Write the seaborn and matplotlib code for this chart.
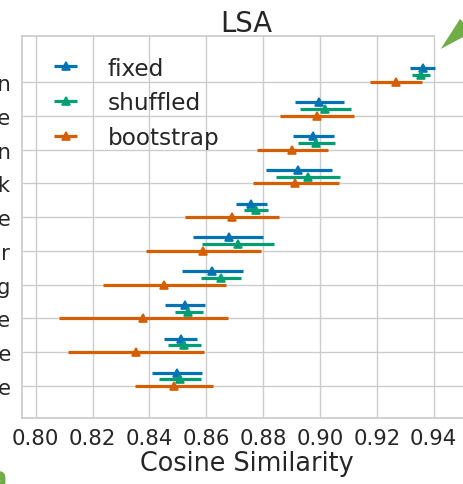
import matplotlib
matplotlib.use("Agg")
import matplotlib.pyplot as plt
from matplotlib.patches import Polygon, Rectangle
import seaborn as sns

# Ten nearest neighbours of the query word, top to bottom
words = ["heroin", "cocaine", "possession", "crack", "methadone",
         "dealer", "smoking", "amphetamine", "nicotine", "legalize"]
settings = ["fixed", "shuffled", "bootstrap"]

# Mean cosine similarity and interval bounds for each setting
fixed_mean = [0.9361, 0.8998, 0.8974, 0.8924, 0.8757, 0.8679, 0.8621, 0.8525, 0.8510, 0.8496]
fixed_lo   = [0.9318, 0.8912, 0.8904, 0.8810, 0.8705, 0.8554, 0.8514, 0.8455, 0.8451, 0.8408]
fixed_hi   = [0.9403, 0.9083, 0.9048, 0.9041, 0.8815, 0.8801, 0.8728, 0.8596, 0.8566, 0.8584]

shuffled_mean = [0.9354, 0.9019, 0.8985, 0.8957, 0.8774, 0.8711, 0.8651, 0.8537, 0.8522, 0.8508]
shuffled_lo   = [0.9324, 0.8930, 0.8924, 0.8844, 0.8733, 0.8584, 0.8581, 0.8490, 0.8466, 0.8434]
shuffled_hi   = [0.9387, 0.9108, 0.9053, 0.9070, 0.8816, 0.8839, 0.8722, 0.8587, 0.8581, 0.8581]

bootstrap_mean = [0.9267, 0.8988, 0.8903, 0.8913, 0.8689, 0.8590, 0.8452, 0.8378, 0.8353, 0.8486]
bootstrap_lo   = [0.9177, 0.8859, 0.8777, 0.8763, 0.8525, 0.8388, 0.8238, 0.8083, 0.8115, 0.8349]
bootstrap_hi   = [0.9358, 0.9121, 0.9027, 0.9067, 0.8856, 0.8792, 0.8670, 0.8675, 0.8593, 0.8625]

x_ticks = [0.80, 0.82, 0.84, 0.86, 0.88, 0.90, 0.92, 0.94]

series = {
    "fixed": (fixed_mean, fixed_lo, fixed_hi),
    "shuffled": (shuffled_mean, shuffled_lo, shuffled_hi),
    "bootstrap": (bootstrap_mean, bootstrap_lo, bootstrap_hi),
}

sns.set_theme(style="whitegrid")
plt.rcParams["font.family"] = ["DejaVu Sans"]
pal = sns.color_palette("colorblind")
colors = {"fixed": pal[0], "shuffled": pal[2], "bootstrap": pal[3]}
offsets = {"fixed": -0.4, "shuffled": -0.2, "bootstrap": 0.0}
text_col = "#262626"

W, H = 463, 485
fig = plt.figure(figsize=(W / 100, H / 100), dpi=100)
ax = fig.add_axes([21.7 / W, 66 / H, (471.3 - 21.7) / W, 382.3 / H])

for name in settings:
    mean, lo, hi = series[name]
    ypos = [i + offsets[name] for i in range(len(words))]
    xerr = [[m - l for m, l in zip(mean, lo)], [h - m for m, h in zip(mean, hi)]]
    ax.errorbar(mean, ypos, xerr=xerr, fmt="^", color=colors[name],
                ms=5.5, mew=1.2, elinewidth=2.3, capsize=0, label=name, zorder=3)

ax.set_xlim(0.79508, 0.95322)
ax.set_ylim(9.947, -1.371)
ax.set_xticks(x_ticks)
ax.set_xticklabels([f"{t:.2f}" for t in x_ticks])
ax.set_yticks(range(len(words)))
ax.set_yticklabels(words)
ax.tick_params(axis="both", length=0, labelsize=15.3, colors=text_col)
ax.tick_params(axis="x", pad=7)
ax.tick_params(axis="y", pad=7.7)

ax.set_title("LSA", fontsize=19.8, pad=3.6, color=text_col)
ax.set_xlabel("Cosine Similarity", fontsize=18.4, labelpad=2, color=text_col)

for s in ax.spines.values():
    s.set_color("#cccccc")
ax.grid(True, color="#cccccc", lw=1.0)

leg = ax.legend(loc="upper left", frameon=False, fontsize=16.7)
for t in leg.get_texts():
    t.set_color(text_col)

# Neighbouring figure elements at the edges
green = "#70AD47"
fig.patches.append(Rectangle((434.8 / W, 1 - 40 / H), (480 - 434.8) / W, 8 / H,
                             transform=fig.transFigure, facecolor="white",
                             edgecolor="none", zorder=9))
tri = [(440.7, 50), (460, 20), (472.8, 32.8)]
fig.patches.append(Polygon([(x / W, 1 - y / H) for x, y in tri], closed=True,
                           transform=fig.transFigure, facecolor=green,
                           edgecolor="none", zorder=10))
fig.text(7.5 / W, 1 - 487 / H, "a", ha="right", va="baseline",
         fontsize=21, fontweight="bold", color=green)

fig.savefig("out.png", dpi=100)
